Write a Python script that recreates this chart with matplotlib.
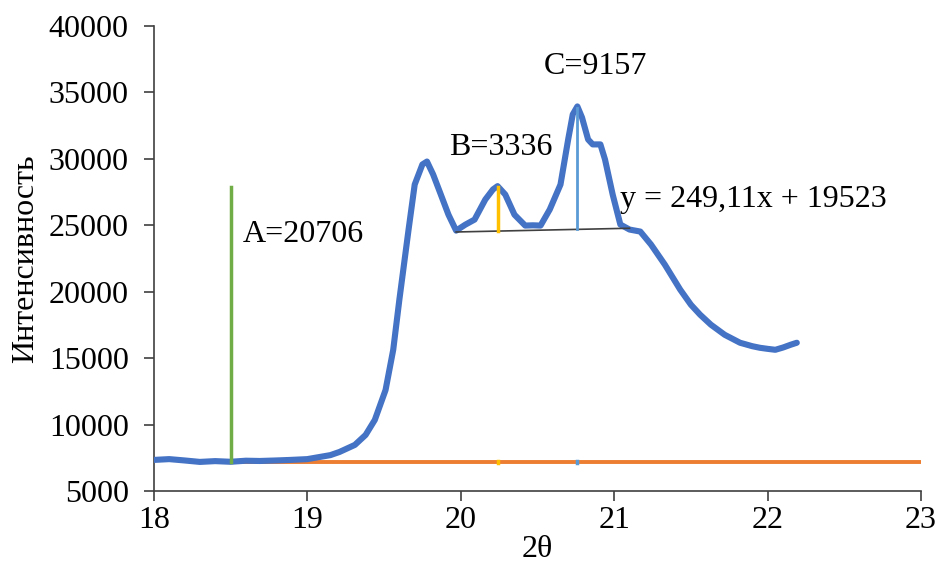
import matplotlib.pyplot as plt
import numpy as np

plt.rcParams['font.family'] = ['Liberation Serif', 'DejaVu Serif']

# XRD curve
two_theta = [18.0, 18.1, 18.2, 18.3, 18.4, 18.5, 18.6, 18.69, 18.8, 18.89, 19.0, 19.08,
             19.15, 19.21, 19.31, 19.38, 19.44, 19.51, 19.56, 19.6, 19.66, 19.7, 19.75,
             19.78, 19.82, 19.87, 19.92, 19.97, 20.03, 20.09, 20.16, 20.21, 20.24, 20.29,
             20.35, 20.42, 20.47, 20.52, 20.58, 20.65, 20.7, 20.73, 20.76, 20.79, 20.83,
             20.86, 20.91, 20.94, 20.99, 21.04, 21.1, 21.17, 21.24, 21.33, 21.43, 21.5,
             21.56, 21.63, 21.72, 21.82, 21.9, 21.95, 22.0, 22.05, 22.1, 22.15, 22.19]
intensity = [7340, 7400, 7300, 7190, 7250, 7200, 7280, 7260, 7300, 7340, 7400, 7560,
             7700, 7940, 8470, 9220, 10350, 12600, 15630, 19400, 24680, 28070, 29580,
             29800, 28830, 27320, 25800, 24600, 25050, 25430, 26940, 27700, 27950, 27320,
             25800, 24980, 25000, 24980, 26190, 28070, 31460, 33350, 33950, 33120, 31460,
             31090, 31090, 29960, 27320, 25060, 24680, 24530, 23550, 22040, 20160, 19020,
             18270, 17520, 16760, 16160, 15900, 15780, 15700, 15630, 15800, 16010, 16160]

# background line and peak markers
bg_level = 7200
bg_x = [18.35, 23.0]
slope, intercept = 249.11, 19523
base_x = [19.97, 21.1]
a_x, a_val = 18.5, 20706
b_x, b_val = 20.24, 3336
c_x, c_val = 20.76, 9157

fs = 23

fig, ax = plt.subplots(figsize=(9.38, 5.66), dpi=100)
fig.subplots_adjust(left=0.164, right=0.982, bottom=0.1325, top=0.954)

ax.plot(two_theta, intensity, color='#4472C4', lw=4.4, solid_capstyle='round',
        solid_joinstyle='round', zorder=3)
ax.plot(bg_x, [bg_level, bg_level], color='#ED7D31', lw=2.8, zorder=2)

# local baseline of peaks B and C
bx = np.array(base_x)
ax.plot(bx, slope * bx + intercept, color='#404040', lw=1.2, zorder=4)

# peak heights
ax.plot([a_x, a_x], [bg_level, bg_level + a_val], color='#70AD47', lw=2.5, zorder=4)
b0 = slope * b_x + intercept
ax.plot([b_x, b_x], [b0, b0 + b_val], color='#FFC000', lw=2.5, zorder=4)
c0 = slope * c_x + intercept
ax.plot([c_x, c_x], [c0, c0 + c_val], color='#5B9BD5', lw=2.0, zorder=4)
ax.plot([b_x, b_x], [bg_level - 60, bg_level + 60], color='#FFC000', lw=2.5, zorder=4)
ax.plot([c_x, c_x], [bg_level - 80, bg_level + 80], color='#5B9BD5', lw=2.5, zorder=4)

ax.text(a_x + 0.08, 24300, f'A={a_val}', fontsize=fs, ha='left', va='center')
ax.text(20.26, 30860, f'B={b_val}', fontsize=fs, ha='center', va='center')
ax.text(20.88, 36970, f'C={c_val}', fontsize=fs, ha='center', va='center')
ax.text(21.04, 26940, 'y = 249,11x + 19523', fontsize=fs, ha='left', va='center')

ax.set_xlim(18, 23)
ax.set_ylim(5000, 40000)
ax.set_xticks([18, 19, 20, 21, 22, 23])
ax.set_yticks(range(5000, 40001, 5000))
ax.tick_params(labelsize=fs, direction='out', length=7, width=1.2, color='#404040', pad=11)
ax.tick_params(axis='x', pad=4)
ax.spines['top'].set_visible(False)
ax.spines['right'].set_visible(False)
ax.spines['left'].set_color('#404040')
ax.spines['bottom'].set_color('#404040')
ax.spines['left'].set_linewidth(1.2)
ax.spines['bottom'].set_linewidth(1.2)
ax.set_xlabel('2θ', fontsize=fs, labelpad=0)
ax.set_ylabel('Интенсивность', fontsize=fs, labelpad=6)

plt.savefig('out.png', dpi=100)
